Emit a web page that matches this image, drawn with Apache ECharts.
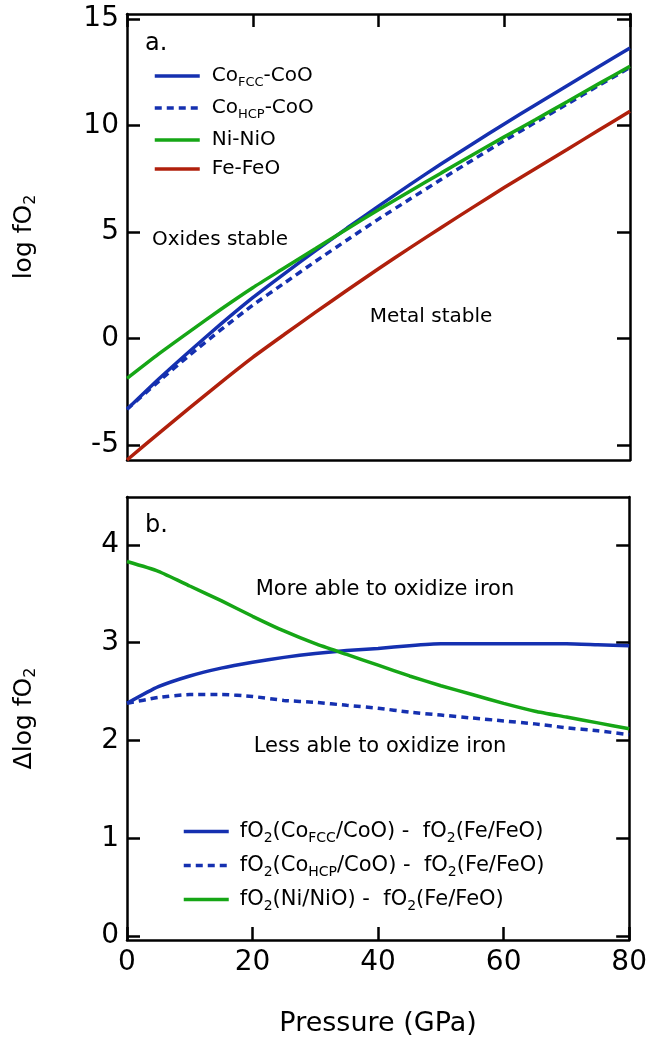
<!DOCTYPE html>
<html>
<head>
<meta charset="utf-8">
<script src="https://cdn.jsdelivr.net/npm/echarts@6/dist/echarts.min.js"></script>
<style>
html,body{margin:0;padding:0;background:#fff;}
#chart{width:650px;height:1041px;}
</style>
</head>
<body>
<div id="chart"></div>
<script>
// ---- data ----
const pressure = [0,5,10,15,20,25,30,35,40,45,50,55,60,65,70,75,80];
// panel a: log fO2 buffers
const coFccCoO = [-3.32,-1.91,-0.58,0.70,1.92,3.04,4.13,5.19,6.22,7.23,8.21,9.15,10.08,10.98,11.87,12.76,13.64];
const coHcpCoO = [-3.32,-2.02,-0.77,0.43,1.57,2.60,3.63,4.63,5.61,6.55,7.48,8.39,9.29,10.16,11.01,11.88,12.73];
const niNiO    = [-1.87,-0.73,0.34,1.39,2.39,3.31,4.23,5.15,6.05,6.92,7.78,8.63,9.47,10.29,11.12,11.96,12.79];
const feFeO    = [-5.70,-4.46,-3.24,-2.04,-0.88,0.19,1.24,2.27,3.28,4.26,5.22,6.16,7.09,7.99,8.88,9.78,10.67];
// panel b: delta log fO2 relative to Fe-FeO
const dCoFcc = [2.38,2.55,2.66,2.74,2.80,2.85,2.89,2.92,2.94,2.97,2.99,2.99,2.99,2.99,2.99,2.98,2.97];
const dCoHcp = [2.38,2.44,2.47,2.47,2.45,2.41,2.39,2.36,2.33,2.29,2.26,2.23,2.20,2.17,2.13,2.10,2.06];
const dNi    = [3.83,3.73,3.58,3.43,3.27,3.12,2.99,2.88,2.77,2.66,2.56,2.47,2.38,2.30,2.24,2.18,2.12];
// ticks
const xTicks = [0,20,40,60,80];
const yTicksTop = [-5,0,5,10,15];
const yTicksBottom = [0,1,2,3,4];
// names
const topNames = ['CoFCC-CoO','CoHCP-CoO','Ni-NiO','Fe-FeO'];
const bottomNames = ['fO2(CoFCC/CoO) - fO2(Fe/FeO)','fO2(CoHCP/CoO) - fO2(Fe/FeO)','fO2(Ni/NiO) - fO2(Fe/FeO)'];

const FONT = 'DejaVu Sans';
const BLUE = '#1530b0', GREEN = '#16a616', RED = '#b0200c';
const LW = 3.5;
const toXY = arr => pressure.map((p,i)=>[p, arr[i]]);

const legendRich = {
  n: {fontSize: 20, fontFamily: FONT, color:'#000', lineHeight: 26},
  s: {fontSize: 13, fontFamily: FONT, color:'#000', lineHeight: 13, verticalAlign: 'bottom'}
};
const legendRichB = {
  n: {fontSize: 21, fontFamily: FONT, color:'#000', lineHeight: 27},
  s: {fontSize: 14, fontFamily: FONT, color:'#000', lineHeight: 14, verticalAlign: 'bottom'}
};
const topLabels = {
  'CoFCC-CoO': '{n|Co}{s|FCC}{n|-CoO}',
  'CoHCP-CoO': '{n|Co}{s|HCP}{n|-CoO}',
  'Ni-NiO': '{n|Ni-NiO}',
  'Fe-FeO': '{n|Fe-FeO}'
};
const bottomLabels = {};
bottomLabels[bottomNames[0]] = '{n|fO}{s|2}{n|(Co}{s|FCC}{n|/CoO) -  fO}{s|2}{n|(Fe/FeO)}';
bottomLabels[bottomNames[1]] = '{n|fO}{s|2}{n|(Co}{s|HCP}{n|/CoO) -  fO}{s|2}{n|(Fe/FeO)}';
bottomLabels[bottomNames[2]] = '{n|fO}{s|2}{n|(Ni/NiO) -  fO}{s|2}{n|(Fe/FeO)}';

const frameLine = {show:true, onZero:false, lineStyle:{color:'#000', width:2.5}};
const tickIn = (vals) => ({show:true, inside:true, length:13, lineStyle:{color:'#000', width:2.5}, customValues: vals});
const tickLabel = (vals) => ({show:true, customValues: vals, fontSize:28, fontFamily:FONT, color:'#000'});
const nameRich = {
  n:{fontSize:25, fontFamily:FONT, color:'#000', lineHeight:30},
  s:{fontSize:16, fontFamily:FONT, color:'#000', lineHeight:16, verticalAlign:'bottom'}
};

const grids = [
  {left:127, right:20, top:14, height:446},
  {left:127, right:20, top:497, height:443}
];

const legendCommon = {
  orient:'vertical', itemWidth:45, itemHeight:12,
  itemStyle:{opacity:0, borderWidth:0},
  lineStyle:{width:LW, inactiveWidth:LW},
  selectedMode:false
};

const option = {
  animation:false,
  backgroundColor:'#fff',
  grid: grids,
  xAxis: [
    {gridIndex:0, type:'value', min:0, max:80, interval:20, position:'bottom',
     axisLine:frameLine, axisTick:{show:false}, axisLabel:{show:false}, splitLine:{show:false}},
    {gridIndex:0, type:'value', min:0, max:80, interval:20, position:'top',
     axisLine:frameLine, axisTick:tickIn(xTicks), axisLabel:{show:false}, splitLine:{show:false}},
    {gridIndex:1, type:'value', min:0, max:80, interval:20, position:'bottom',
     axisLine:frameLine, axisTick:tickIn(xTicks),
     axisLabel:Object.assign(tickLabel(xTicks), {margin:9}), splitLine:{show:false},
     name:'Pressure (GPa)', nameLocation:'middle', nameGap:70,
     nameTextStyle:{fontSize:27, fontFamily:FONT, color:'#000'}},
    {gridIndex:1, type:'value', min:0, max:80, interval:20, position:'top',
     axisLine:frameLine, axisTick:{show:false}, axisLabel:{show:false}, splitLine:{show:false}}
  ],
  yAxis: [
    {gridIndex:0, type:'value', min:-5.7, max:15.24, position:'left',
     axisLine:frameLine, axisTick:tickIn(yTicksTop),
     axisLabel:Object.assign(tickLabel(yTicksTop), {margin:8}), splitLine:{show:false},
     name:'{n|log fO}{s|2}', nameLocation:'middle', nameGap:88, nameRotate:90,
     nameTextStyle:{rich:nameRich}},
    {gridIndex:0, type:'value', min:-5.7, max:15.24, position:'right',
     axisLine:frameLine, axisTick:tickIn(yTicksTop), axisLabel:{show:false}, splitLine:{show:false}},
    {gridIndex:1, type:'value', min:-0.04, max:4.49, position:'left',
     axisLine:frameLine, axisTick:tickIn(yTicksBottom),
     axisLabel:Object.assign(tickLabel(yTicksBottom), {margin:8}), splitLine:{show:false},
     name:'{n|\u0394log fO}{s|2}', nameLocation:'middle', nameGap:88, nameRotate:90,
     nameTextStyle:{rich:nameRich}},
    {gridIndex:1, type:'value', min:-0.04, max:4.49, position:'right',
     axisLine:frameLine, axisTick:tickIn(yTicksBottom), axisLabel:{show:false}, splitLine:{show:false}}
  ],
  legend: [
    Object.assign({}, legendCommon, {data: topNames, left:148, top:61, itemGap:9,
     formatter: n => topLabels[n], textStyle:{rich:legendRich, padding:[0,0,0,7]}}),
    Object.assign({}, legendCommon, {data: bottomNames, left:177, top:816, itemGap:10,
     formatter: n => bottomLabels[n], textStyle:{rich:legendRichB, padding:[0,0,0,6]}})
  ],
  series: [
    {name:topNames[0], type:'line', xAxisIndex:0, yAxisIndex:0, data:toXY(coFccCoO), smooth:0.2,
     symbol:'none', lineStyle:{color:BLUE, width:LW}, itemStyle:{color:BLUE}},
    {name:topNames[1], type:'line', xAxisIndex:0, yAxisIndex:0, data:toXY(coHcpCoO), smooth:0.2,
     symbol:'none', lineStyle:{color:BLUE, width:LW, type:[7,5]}, itemStyle:{color:BLUE}},
    {name:topNames[2], type:'line', xAxisIndex:0, yAxisIndex:0, data:toXY(niNiO), smooth:0.2,
     symbol:'none', lineStyle:{color:GREEN, width:LW}, itemStyle:{color:GREEN}},
    {name:topNames[3], type:'line', xAxisIndex:0, yAxisIndex:0, data:toXY(feFeO), smooth:0.2,
     symbol:'none', lineStyle:{color:RED, width:LW}, itemStyle:{color:RED}},
    {name:bottomNames[0], type:'line', xAxisIndex:2, yAxisIndex:2, data:toXY(dCoFcc), smooth:0.2,
     symbol:'none', lineStyle:{color:BLUE, width:LW}, itemStyle:{color:BLUE}},
    {name:bottomNames[1], type:'line', xAxisIndex:2, yAxisIndex:2, data:toXY(dCoHcp), smooth:0.2,
     symbol:'none', lineStyle:{color:BLUE, width:LW, type:[7,5]}, itemStyle:{color:BLUE}},
    {name:bottomNames[2], type:'line', xAxisIndex:2, yAxisIndex:2, data:toXY(dNi), smooth:0.2,
     symbol:'none', lineStyle:{color:GREEN, width:LW}, itemStyle:{color:GREEN}}
  ],
  graphic: [
    {type:'text', x:145, y:44, style:{text:'a.', fontSize:24, fontFamily:FONT, fill:'#000', align:'left', verticalAlign:'middle'}},
    {type:'text', x:145, y:526, style:{text:'b.', fontSize:24, fontFamily:FONT, fill:'#000', align:'left', verticalAlign:'middle'}},
    {type:'text', x:152, y:240, style:{text:'Oxides stable', fontSize:20, fontFamily:FONT, fill:'#000', align:'left', verticalAlign:'middle'}},
    {type:'text', x:431, y:317, style:{text:'Metal stable', fontSize:20, fontFamily:FONT, fill:'#000', align:'center', verticalAlign:'middle'}},
    {type:'text', x:385, y:590, style:{text:'More able to oxidize iron', fontSize:21, fontFamily:FONT, fill:'#000', align:'center', verticalAlign:'middle'}},
    {type:'text', x:380, y:747, style:{text:'Less able to oxidize iron', fontSize:21, fontFamily:FONT, fill:'#000', align:'center', verticalAlign:'middle'}}
  ]
};

const chart = echarts.init(document.getElementById('chart'), null, {renderer:'canvas'});
chart.setOption(option);
</script>
</body>
</html>
